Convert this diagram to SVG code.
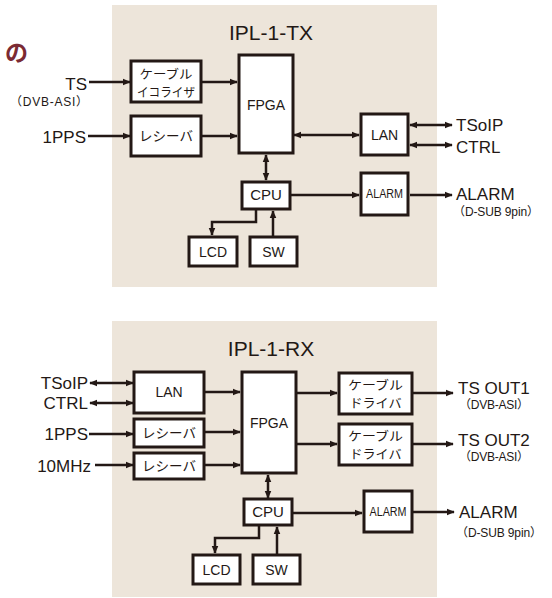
<svg xmlns="http://www.w3.org/2000/svg" width="552" height="598" viewBox="0 0 552 598">
<defs>
<marker id="ah" viewBox="0 0 10 10" refX="9" refY="5" markerWidth="8" markerHeight="8" markerUnits="userSpaceOnUse" orient="auto-start-reverse">
<path d="M0,0.8 L10,5 L0,9.2 z" fill="#231815"/>
</marker>
</defs>
<style>
.bg{fill:#ede5da}
.box{fill:#ffffff;stroke:#231815;stroke-width:3}
.t{font-family:"Liberation Sans","Noto Sans CJK JP",sans-serif;fill:#231815}
.j{font-family:"Noto Sans CJK JP",sans-serif;fill:#231815;font-size:13.5px}
.j2{font-family:"Noto Sans CJK JP",sans-serif;fill:#231815;font-size:12.5px}
.c{text-anchor:middle}
.e{text-anchor:end}
.lbl{font-size:17px}
.sub{font-size:12px}
.ttl{font-size:21px;text-anchor:middle}
.w{fill:none;stroke:#231815;stroke-width:2.5}
.a{marker-end:url(#ah)}
.b{marker-start:url(#ah);marker-end:url(#ah)}
</style>
<text x="28" y="61" style="font-family:'Noto Sans CJK JP',sans-serif;font-weight:bold;font-size:23px;fill:#7b2a33" text-anchor="end">の</text>

<g id="panel-tx">
<rect class="bg" x="112" y="5" width="325" height="282"/>
<text class="t ttl" x="271" y="40">IPL-1-TX</text>
</g>
<g id="panel-rx">
<rect class="bg" x="112" y="321" width="325" height="276"/>
<text class="t ttl" x="271" y="356">IPL-1-RX</text>
</g>

<g id="connectors">
<path class="w a" d="M89,82 H130"/>
<path class="w a" d="M88,136 H130"/>
<path class="w a" d="M202,82 H237"/>
<path class="w a" d="M202,136 H237"/>
<path class="w b" d="M294,135 H359"/>
<path class="w b" d="M410,125 H452"/>
<path class="w b" d="M410,145 H452"/>
<path class="w b" d="M266,155 V180"/>
<path class="w a" d="M291,195 H359"/>
<path class="w a" d="M410,195 H452"/>
<path class="w a" d="M256,210 V222 H212 V235"/>
<path class="w a" d="M273,236 V211"/>

<path class="w b" d="M90,383 H133"/>
<path class="w b" d="M90,403 H133"/>
<path class="w a" d="M89,434 H133"/>
<path class="w a" d="M95,465 H133"/>
<path class="w a" d="M204,392 H240"/>
<path class="w a" d="M204,432 H240"/>
<path class="w a" d="M204,465 H240"/>
<path class="w a" d="M297,393 H337"/>
<path class="w a" d="M297,444 H337"/>
<path class="w a" d="M413,393 H453"/>
<path class="w a" d="M413,444 H453"/>
<path class="w b" d="M268,475 V498"/>
<path class="w a" d="M293,513 H362"/>
<path class="w a" d="M413,512 H454"/>
<path class="w a" d="M259,526 V538 H215 V553"/>
<path class="w a" d="M277,554 V527"/>
</g>

<g id="tx-labels">
<text class="t lbl e" x="87" y="90">TS</text>
<text class="t sub e" x="88" y="106" textLength="78" lengthAdjust="spacing">（DVB-ASI）</text>
<text class="t lbl e" x="86" y="143">1PPS</text>
<text class="t lbl" x="456" y="131">TSoIP</text>
<text class="t lbl" x="456" y="153">CTRL</text>
<text class="t lbl" x="456" y="200">ALARM</text>
<text class="t sub" x="453" y="216" textLength="86" lengthAdjust="spacing">（D-SUB 9pin）</text>
</g>

<g id="tx-eq">
<rect class="box" x="131" y="61" width="70" height="41"/>
<text class="j2 c" x="166" y="78.5" textLength="53" lengthAdjust="spacingAndGlyphs">ケーブル</text>
<text class="j2 c" x="166" y="96.7" textLength="58" lengthAdjust="spacingAndGlyphs">イコライザ</text>
</g>
<g id="tx-rx">
<rect class="box" x="131" y="116" width="70" height="40"/>
<text class="j c" x="166" y="141">レシーバ</text>
</g>
<g id="tx-fpga">
<rect class="box" x="239" y="55" width="54" height="98"/>
<text class="t c" x="266" y="110" font-size="14">FPGA</text>
</g>
<g id="tx-lan">
<rect class="box" x="361" y="114" width="47" height="41"/>
<text class="t c" x="384.5" y="140" font-size="14">LAN</text>
</g>
<g id="tx-cpu">
<rect class="box" x="242" y="182" width="48" height="27"/>
<text class="t c" x="266" y="200" font-size="15">CPU</text>
</g>
<g id="tx-alarm">
<rect class="box" x="361" y="173" width="47" height="42"/>
<text class="t c" x="384.5" y="198" font-size="12.5" textLength="37" lengthAdjust="spacingAndGlyphs">ALARM</text>
</g>
<g id="tx-lcd">
<rect class="box" x="189" y="237" width="48" height="29"/>
<text class="t c" x="213" y="257" font-size="14">LCD</text>
</g>
<g id="tx-sw">
<rect class="box" x="250" y="237" width="47" height="29"/>
<text class="t c" x="273.5" y="257" font-size="14">SW</text>
</g>

<g id="rx-labels">
<text class="t lbl e" x="88" y="389">TSoIP</text>
<text class="t lbl e" x="88" y="409">CTRL</text>
<text class="t lbl e" x="88" y="440">1PPS</text>
<text class="t lbl e" x="91" y="472">10MHz</text>
<text class="t lbl" x="458" y="394">TS OUT1</text>
<text class="t sub" x="459" y="409" textLength="70" lengthAdjust="spacing">（DVB-ASI）</text>
<text class="t lbl" x="458" y="446">TS OUT2</text>
<text class="t sub" x="459" y="461" textLength="70" lengthAdjust="spacing">（DVB-ASI）</text>
<text class="t lbl" x="459" y="518">ALARM</text>
<text class="t sub" x="456" y="537" textLength="86" lengthAdjust="spacing">（D-SUB 9pin）</text>
</g>

<g id="rx-lan">
<rect class="box" x="134" y="372" width="70" height="41"/>
<text class="t c" x="169" y="397" font-size="14">LAN</text>
</g>
<g id="rx-rx1">
<rect class="box" x="134" y="419" width="70" height="28"/>
<text class="j c" x="169" y="438">レシーバ</text>
</g>
<g id="rx-rx2">
<rect class="box" x="134" y="453" width="70" height="26"/>
<text class="j c" x="169" y="471">レシーバ</text>
</g>
<g id="rx-fpga">
<rect class="box" x="242" y="372" width="54" height="101"/>
<text class="t c" x="269" y="428" font-size="14">FPGA</text>
</g>
<g id="rx-drv1">
<rect class="box" x="339" y="373" width="73" height="41"/>
<text class="j2 c" x="375.5" y="390" textLength="55" lengthAdjust="spacingAndGlyphs">ケーブル</text>
<text class="j2 c" x="375.5" y="408.2" textLength="52" lengthAdjust="spacingAndGlyphs">ドライバ</text>
</g>
<g id="rx-drv2">
<rect class="box" x="339" y="424" width="73" height="41"/>
<text class="j2 c" x="375.5" y="441" textLength="55" lengthAdjust="spacingAndGlyphs">ケーブル</text>
<text class="j2 c" x="375.5" y="459.2" textLength="52" lengthAdjust="spacingAndGlyphs">ドライバ</text>
</g>
<g id="rx-cpu">
<rect class="box" x="244" y="499" width="48" height="26"/>
<text class="t c" x="268" y="517" font-size="15">CPU</text>
</g>
<g id="rx-alarm">
<rect class="box" x="364" y="491" width="48" height="41"/>
<text class="t c" x="388" y="516" font-size="12.5" textLength="37" lengthAdjust="spacingAndGlyphs">ALARM</text>
</g>
<g id="rx-lcd">
<rect class="box" x="193" y="555" width="47" height="29"/>
<text class="t c" x="216.5" y="575" font-size="14">LCD</text>
</g>
<g id="rx-sw">
<rect class="box" x="253" y="555" width="47" height="29"/>
<text class="t c" x="276.5" y="575" font-size="14">SW</text>
</g>
</svg>
